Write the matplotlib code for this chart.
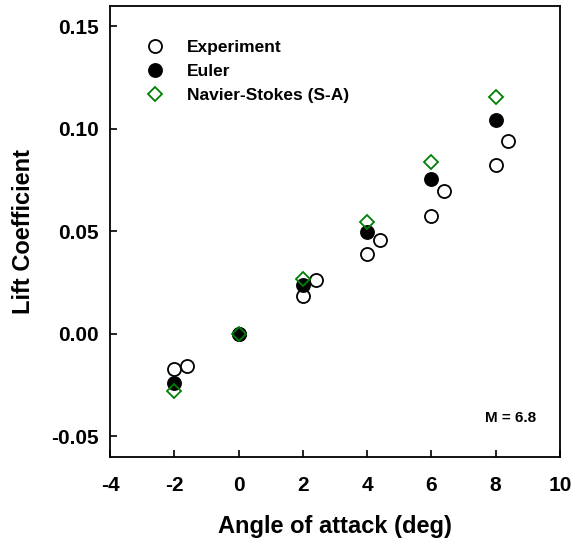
import numpy as np
import matplotlib.pyplot as plt

plt.rcParams['font.family'] = ['Liberation Sans', 'DejaVu Sans']
plt.rcParams['font.weight'] = 'bold'

# lift coefficient vs angle of attack, M = 6.8
exp_alpha = [-2, -1.6, 0, 2, 2.4, 4, 4.4, 6, 6.4, 8, 8.4]
exp_cl = [-0.017, -0.0155, 0.0, 0.0185, 0.0265, 0.039, 0.046, 0.0575, 0.0695, 0.0825, 0.094]

euler_alpha = [-2, 0, 2, 4, 6, 8]
euler_cl = [-0.024, 0.0, 0.024, 0.0495, 0.0755, 0.1045]

ns_alpha = [-2, 0, 2, 4, 6, 8]
ns_cl = [-0.0277, 0.0, 0.027, 0.0545, 0.084, 0.1155]

xticks = [-4, -2, 0, 2, 4, 6, 8, 10]
yticks = [-0.05, 0.00, 0.05, 0.10, 0.15]

fig = plt.figure(figsize=(5.73, 5.40), dpi=100)
ax = fig.add_axes([0.192, 0.154, 0.785, 0.835])

ax.plot(exp_alpha, exp_cl, 'o', ms=9.4, mfc='white', mec='black', mew=1.3,
        label='Experiment', zorder=3)
ax.plot(euler_alpha, euler_cl, 'o', ms=9.4, mfc='black', mec='black', mew=1.3,
        label='Euler', zorder=4)
ax.plot(ns_alpha, ns_cl, 'D', ms=7.4, mfc='none', mec='#008000', mew=1.3,
        label='Navier-Stokes (S-A)', zorder=5)

ax.set_xlim(-4, 10)
ax.set_ylim(-0.06, 0.16)
ax.set_xticks(xticks)
ax.set_yticks(yticks)
ax.set_xticklabels([str(t) for t in xticks])
ax.set_yticklabels(['%.2f' % t for t in yticks])
ax.tick_params(direction='in', length=5, width=1.2, labelsize=15)
ax.tick_params(axis='x', pad=14)
ax.tick_params(axis='y', pad=8)

for s in ax.spines.values():
    s.set_linewidth(1.3)

ax.set_xlabel('Angle of attack (deg)', fontsize=17, fontweight='bold', labelpad=14)
ax.set_ylabel('Lift Coefficient', fontsize=17, fontweight='bold', labelpad=12)

ax.legend(loc='upper left', bbox_to_anchor=(0.061, 0.924), frameon=False,
          fontsize=12.5, handletextpad=0.85, labelspacing=0.5, borderpad=0,
          borderaxespad=0)

ax.text(0.947, 0.0865, 'M = 6.8', transform=ax.transAxes, ha='right', va='center',
        fontsize=11, fontweight='bold')

fig.savefig('out.png', dpi=100)
